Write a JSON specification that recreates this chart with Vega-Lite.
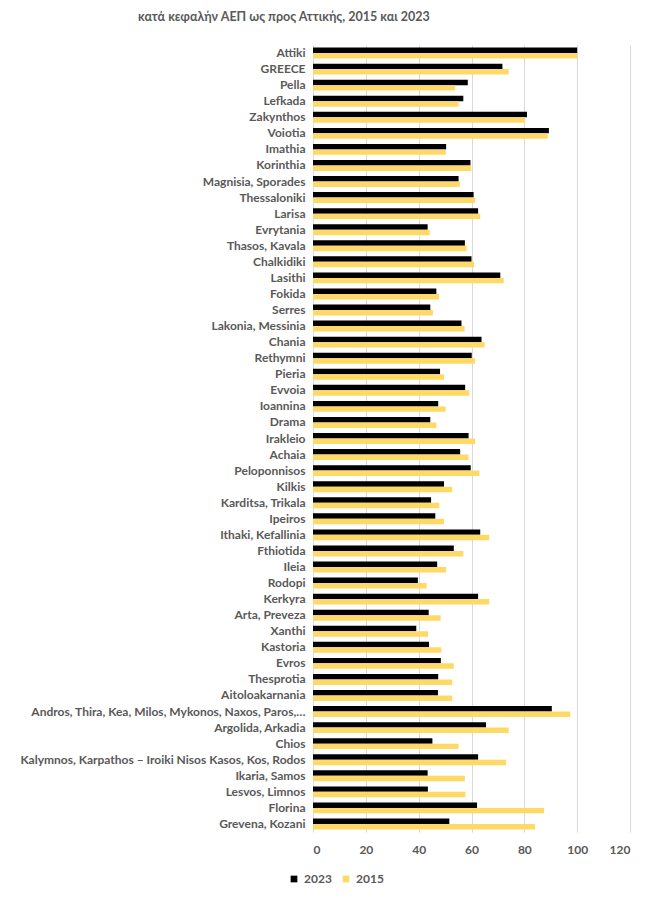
{
  "$schema": "https://vega.github.io/schema/vega-lite/v6.json",
  "autosize": {"type": "none"},
  "width": 317,
  "height": 787,
  "padding": {"left": 313, "top": 45, "right": 36, "bottom": 68},
  "background": "white",
  "title": {
    "text": "κατά κεφαλήν ΑΕΠ ως προς Αττικής, 2015 και 2023",
    "anchor": "start",
    "frame": "group",
    "dx": -175,
    "offset": 22,
    "font": "Lato",
    "fontSize": 12.5,
    "fontWeight": "bold",
    "color": "#595959"
  },
  "data": {
    "values": [
      {"region": "Attiki", "year": "2023", "value": 100},
      {"region": "Attiki", "year": "2015", "value": 100},
      {"region": "GREECE", "year": "2023", "value": 71.7},
      {"region": "GREECE", "year": "2015", "value": 74.1},
      {"region": "Pella", "year": "2023", "value": 58.6},
      {"region": "Pella", "year": "2015", "value": 53.8},
      {"region": "Lefkada", "year": "2023", "value": 56.9},
      {"region": "Lefkada", "year": "2015", "value": 55.1},
      {"region": "Zakynthos", "year": "2023", "value": 81.0},
      {"region": "Zakynthos", "year": "2015", "value": 80.3},
      {"region": "Voiotia", "year": "2023", "value": 89.3},
      {"region": "Voiotia", "year": "2015", "value": 88.9},
      {"region": "Imathia", "year": "2023", "value": 50.4},
      {"region": "Imathia", "year": "2015", "value": 50.3},
      {"region": "Korinthia", "year": "2023", "value": 59.6},
      {"region": "Korinthia", "year": "2015", "value": 59.9},
      {"region": "Magnisia, Sporades", "year": "2023", "value": 55.1},
      {"region": "Magnisia, Sporades", "year": "2015", "value": 55.6},
      {"region": "Thessaloniki", "year": "2023", "value": 60.8},
      {"region": "Thessaloniki", "year": "2015", "value": 61.4},
      {"region": "Larisa", "year": "2023", "value": 62.5},
      {"region": "Larisa", "year": "2015", "value": 63.3},
      {"region": "Evrytania", "year": "2023", "value": 43.4},
      {"region": "Evrytania", "year": "2015", "value": 44.2},
      {"region": "Thasos, Kavala", "year": "2023", "value": 57.5},
      {"region": "Thasos, Kavala", "year": "2015", "value": 58.2},
      {"region": "Chalkidiki", "year": "2023", "value": 60.0},
      {"region": "Chalkidiki", "year": "2015", "value": 61.0},
      {"region": "Lasithi", "year": "2023", "value": 70.9},
      {"region": "Lasithi", "year": "2015", "value": 72.2},
      {"region": "Fokida", "year": "2023", "value": 46.7},
      {"region": "Fokida", "year": "2015", "value": 47.7},
      {"region": "Serres", "year": "2023", "value": 44.4},
      {"region": "Serres", "year": "2015", "value": 45.4},
      {"region": "Lakonia, Messinia", "year": "2023", "value": 56.2},
      {"region": "Lakonia, Messinia", "year": "2015", "value": 57.4},
      {"region": "Chania", "year": "2023", "value": 63.8},
      {"region": "Chania", "year": "2015", "value": 65.0},
      {"region": "Rethymni", "year": "2023", "value": 60.1},
      {"region": "Rethymni", "year": "2015", "value": 61.4},
      {"region": "Pieria", "year": "2023", "value": 48.1},
      {"region": "Pieria", "year": "2015", "value": 49.6},
      {"region": "Evvoia", "year": "2023", "value": 57.6},
      {"region": "Evvoia", "year": "2015", "value": 59.2},
      {"region": "Ioannina", "year": "2023", "value": 47.4},
      {"region": "Ioannina", "year": "2015", "value": 50.2},
      {"region": "Drama", "year": "2023", "value": 44.4},
      {"region": "Drama", "year": "2015", "value": 46.7},
      {"region": "Irakleio", "year": "2023", "value": 58.9},
      {"region": "Irakleio", "year": "2015", "value": 61.4},
      {"region": "Achaia", "year": "2023", "value": 55.7},
      {"region": "Achaia", "year": "2015", "value": 58.9},
      {"region": "Peloponnisos", "year": "2023", "value": 59.7},
      {"region": "Peloponnisos", "year": "2015", "value": 63.0},
      {"region": "Kilkis", "year": "2023", "value": 49.6},
      {"region": "Kilkis", "year": "2015", "value": 52.7},
      {"region": "Karditsa, Trikala", "year": "2023", "value": 44.7},
      {"region": "Karditsa, Trikala", "year": "2015", "value": 47.8},
      {"region": "Ipeiros", "year": "2023", "value": 46.3},
      {"region": "Ipeiros", "year": "2015", "value": 49.6},
      {"region": "Ithaki, Kefallinia", "year": "2023", "value": 63.3},
      {"region": "Ithaki, Kefallinia", "year": "2015", "value": 66.7},
      {"region": "Fthiotida", "year": "2023", "value": 53.3},
      {"region": "Fthiotida", "year": "2015", "value": 56.9},
      {"region": "Ileia", "year": "2023", "value": 47.0},
      {"region": "Ileia", "year": "2015", "value": 50.4},
      {"region": "Rodopi", "year": "2023", "value": 39.7},
      {"region": "Rodopi", "year": "2015", "value": 43.0},
      {"region": "Kerkyra", "year": "2023", "value": 62.5},
      {"region": "Kerkyra", "year": "2015", "value": 66.7},
      {"region": "Arta, Preveza", "year": "2023", "value": 43.8},
      {"region": "Arta, Preveza", "year": "2015", "value": 48.3},
      {"region": "Xanthi", "year": "2023", "value": 39.1},
      {"region": "Xanthi", "year": "2015", "value": 43.6},
      {"region": "Kastoria", "year": "2023", "value": 43.9},
      {"region": "Kastoria", "year": "2015", "value": 48.6},
      {"region": "Evros", "year": "2023", "value": 48.4},
      {"region": "Evros", "year": "2015", "value": 53.3},
      {"region": "Thesprotia", "year": "2023", "value": 47.4},
      {"region": "Thesprotia", "year": "2015", "value": 52.7},
      {"region": "Aitoloakarnania", "year": "2023", "value": 47.3},
      {"region": "Aitoloakarnania", "year": "2015", "value": 52.7},
      {"region": "Andros, Thira, Kea, Milos, Mykonos, Naxos, Paros,…", "year": "2023", "value": 90.4},
      {"region": "Andros, Thira, Kea, Milos, Mykonos, Naxos, Paros,…", "year": "2015", "value": 97.4},
      {"region": "Argolida, Arkadia", "year": "2023", "value": 65.5},
      {"region": "Argolida, Arkadia", "year": "2015", "value": 74.1},
      {"region": "Chios", "year": "2023", "value": 45.2},
      {"region": "Chios", "year": "2015", "value": 55.1},
      {"region": "Kalymnos, Karpathos – Iroiki Nisos Kasos, Kos, Rodos", "year": "2023", "value": 62.5},
      {"region": "Kalymnos, Karpathos – Iroiki Nisos Kasos, Kos, Rodos", "year": "2015", "value": 73.1},
      {"region": "Ikaria, Samos", "year": "2023", "value": 43.4},
      {"region": "Ikaria, Samos", "year": "2015", "value": 57.5},
      {"region": "Lesvos, Limnos", "year": "2023", "value": 43.5},
      {"region": "Lesvos, Limnos", "year": "2015", "value": 57.7},
      {"region": "Florina", "year": "2023", "value": 62.1},
      {"region": "Florina", "year": "2015", "value": 87.5},
      {"region": "Grevena, Kozani", "year": "2023", "value": 51.6},
      {"region": "Grevena, Kozani", "year": "2015", "value": 84.0}
    ]
  },
  "mark": {"type": "bar"},
  "encoding": {
    "y": {
      "field": "region",
      "type": "nominal",
      "sort": null,
      "title": null,
      "scale": {"paddingInner": 0.32, "paddingOuter": 0.16},
      "axis": {
        "ticks": false,
        "domain": false,
        "labelPadding": 8,
        "labelLimit": 400,
        "labelFont": "Lato",
        "labelFontSize": 12,
        "labelFontWeight": "bold",
        "labelColor": "#595959"
      }
    },
    "yOffset": {
      "field": "year",
      "type": "nominal",
      "sort": ["2023", "2015"]
    },
    "x": {
      "field": "value",
      "type": "quantitative",
      "title": null,
      "scale": {"domain": [0, 120], "nice": false},
      "axis": {
        "values": [0, 20, 40, 60, 80, 100, 120],
        "ticks": false,
        "domain": false,
        "grid": true,
        "gridColor": "#d9d9d9",
        "labelPadding": 12,
        "labelFont": "Lato",
        "labelFontSize": 12,
        "labelFontWeight": "bold",
        "labelColor": "#595959"
      }
    },
    "color": {
      "field": "year",
      "type": "nominal",
      "scale": {"domain": ["2023", "2015"], "range": ["#000000", "#FFD966"]},
      "legend": {
        "title": null,
        "orient": "none",
        "direction": "horizontal",
        "legendX": -25,
        "legendY": 828,
        "symbolType": "square",
        "symbolSize": 45,
        "columnPadding": 8,
        "labelFont": "Lato",
        "labelFontSize": 12,
        "labelFontWeight": "bold",
        "labelColor": "#595959"
      }
    }
  },
  "config": {"view": {"stroke": null}}
}
